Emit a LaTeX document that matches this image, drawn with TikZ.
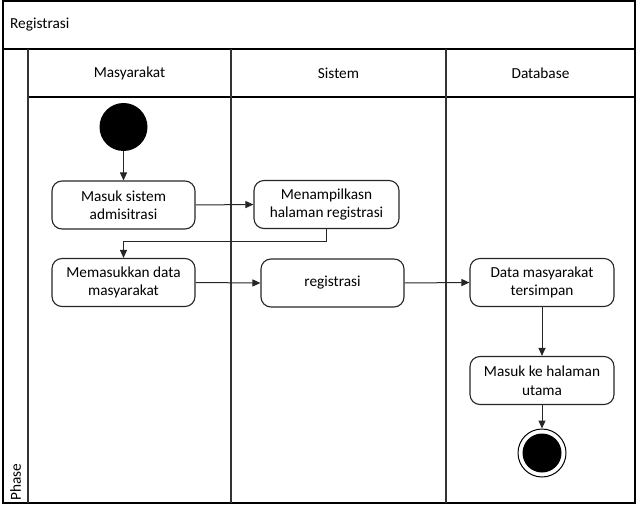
\documentclass[tikz,border=0pt]{standalone}
\usepackage{fontspec}
\setmainfont{Carlito}
\usetikzlibrary{arrows.meta}
\begin{document}
\begin{tikzpicture}[x=1pt,y=-1pt,
  every node/.style={font=\fontsize{15.3}{18.5}\selectfont, text=black},
  act/.style={draw=black!85, line width=1.1pt, rounded corners=10pt, align=center, inner sep=0pt,
    minimum width=143pt, minimum height=48pt},
  frame/.style={draw=black, line width=1.2pt},
  lane/.style={draw=black!80, line width=1.8pt},
  flow/.style={draw=black!85, line width=1pt, -{Triangle[length=8pt,width=7pt]}},
  plain/.style={draw=black!85, line width=1pt}]
\useasboundingbox (0,0) rectangle (639,510);
% frame
\draw[frame] (3,1) rectangle (635,503);
\draw[frame] (3,49) -- (635,49);
\draw[frame] (28,97) -- (635,97);
\draw[lane] (28,49) -- (28,503);
\draw[lane] (231,49) -- (231,503);
\draw[lane] (446,49) -- (446,503);
\node[anchor=west, inner sep=0pt] (title) at (10,25) {Registrasi};
\node[rotate=90, anchor=west, inner sep=0pt] (phase) at (15.5,501) {Phase};
\node (h1) at (129.5,73) {Masyarakat};
\node (h2) at (338.5,73) {Sistem};
\node (h3) at (540.5,73) {Database};
% nodes
\node[circle, fill=black, minimum size=48pt, inner sep=0pt] (start) at (123.5,127) {};
\node[act] (b1) at (123.5,205) {Masuk sistem\\admisitrasi};
\node[act, minimum width=145pt] (b2) at (326.5,204.5) {Menampilkasn\\halaman registrasi};
\node[act] (b3) at (123.5,282.5) {Memasukkan data\\masyarakat};
\node[act] (b4) at (332.5,283) {registrasi};
\node[act, minimum width=144pt] (b5) at (542,282.5) {Data masyarakat\\tersimpan};
\node[act, minimum width=144pt] (b6) at (542,380.5) {Masuk ke halaman\\utama};
\node[circle, draw=black, line width=1pt, fill=white, minimum size=48pt, inner sep=0pt] (end) at (542,453) {};
\fill[black] (end.center) circle (19.5);
% connectors
\draw[flow] (start) -- (b1.north);
\draw[flow] (b1.east) -- (b2.west);
\draw[flow] (b2.south) -- ++(0,12) -| (b3.north);
\draw[flow] (b3.east) -- (b4.west);
\draw[flow] (b4.east) -- (b5.west);
\draw[flow] (b5.south) -- (b6.north);
\draw[flow] (b6.south) -- (end.north);
\end{tikzpicture}
\end{document}
